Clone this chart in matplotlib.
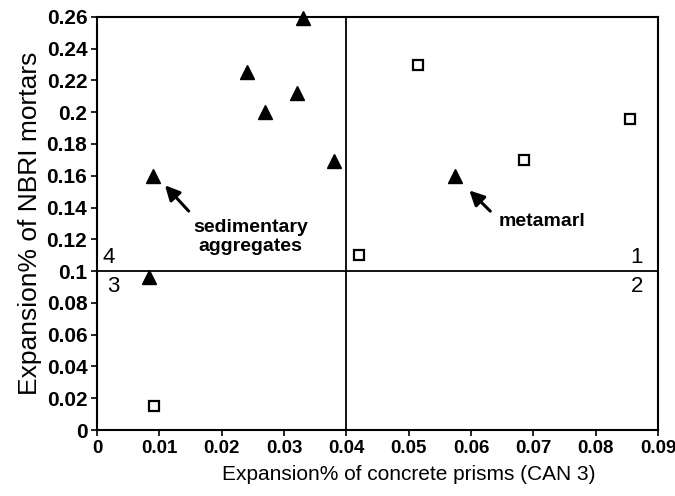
import numpy as np
import matplotlib
matplotlib.use("Agg")
import matplotlib.pyplot as plt

plt.rcParams['font.family'] = ['Liberation Sans', 'DejaVu Sans']

# triangles (filled)
tri_x = [0.009, 0.024, 0.027, 0.032, 0.033, 0.038, 0.0575, 0.0083]
tri_y = [0.160, 0.225, 0.200, 0.212, 0.259, 0.169, 0.160, 0.096]
# squares (open)
sq_x = [0.042, 0.0515, 0.0685, 0.0855, 0.0092]
sq_y = [0.110, 0.230, 0.170, 0.196, 0.015]

xticks = [0, 0.01, 0.02, 0.03, 0.04, 0.05, 0.06, 0.07, 0.08, 0.09]
xticklabels = ['0', '0.01', '0.02', '0.03', '0.04', '0.05', '0.06', '0.07', '0.08', '0.09']
yticks = [0, 0.02, 0.04, 0.06, 0.08, 0.1, 0.12, 0.14, 0.16, 0.18, 0.2, 0.22, 0.24, 0.26]
yticklabels = ['0', '0.02', '0.04', '0.06', '0.08', '0.1', '0.12', '0.14', '0.16',
               '0.18', '0.2', '0.22', '0.24', '0.26']

fig = plt.figure(figsize=(6.75, 4.96), dpi=100)
ax = fig.add_axes([0.1437, 0.133, 0.8313, 0.833])

ax.plot(tri_x, tri_y, '^', color='black', markersize=10, linestyle='none', clip_on=False)
ax.plot(sq_x, sq_y, 's', markerfacecolor='white', markeredgecolor='black',
        markersize=7, markeredgewidth=1.6, linestyle='none')

ax.axvline(0.04, color='black', lw=1.3)
ax.axhline(0.1, color='black', lw=1.3)

ax.set_xlim(0, 0.09)
ax.set_ylim(0, 0.26)
ax.set_xticks(xticks)
ax.set_xticklabels(xticklabels, fontsize=13.5, fontweight='bold')
ax.set_yticks(yticks)
ax.set_yticklabels(yticklabels, fontsize=15, fontweight='bold')
ax.tick_params(direction='out', length=4, width=1.2, pad=3)
for s in ax.spines.values():
    s.set_linewidth(1.5)

ax.set_xlabel('Expansion% of concrete prisms (CAN 3)', fontsize=15)
ax.xaxis.set_label_coords(0.555, -0.085)
ax.set_ylabel('Expansion% of NBRI mortars', fontsize=19, labelpad=3)

ax.annotate('', xy=(0.0106, 0.1553), xytext=(0.0150, 0.1365),
            arrowprops=dict(arrowstyle='-|>', color='black', lw=2.2, mutation_scale=22))
ax.text(0.0246, 0.1215, 'sedimentary\naggregates', ha='center', va='center',
        fontsize=14, fontweight='bold', linespacing=1.1)

ax.annotate('', xy=(0.0594, 0.152), xytext=(0.0634, 0.1365),
            arrowprops=dict(arrowstyle='-|>', color='black', lw=2.2, mutation_scale=22))
ax.text(0.0713, 0.131, 'metamarl', ha='center', va='center', fontsize=14, fontweight='bold')

ax.text(0.0018, 0.1085, '4', ha='center', va='center', fontsize=16)
ax.text(0.0026, 0.0905, '3', ha='center', va='center', fontsize=16)
ax.text(0.0866, 0.1085, '1', ha='center', va='center', fontsize=16)
ax.text(0.0866, 0.0905, '2', ha='center', va='center', fontsize=16)

fig.savefig('out.png', dpi=100)
